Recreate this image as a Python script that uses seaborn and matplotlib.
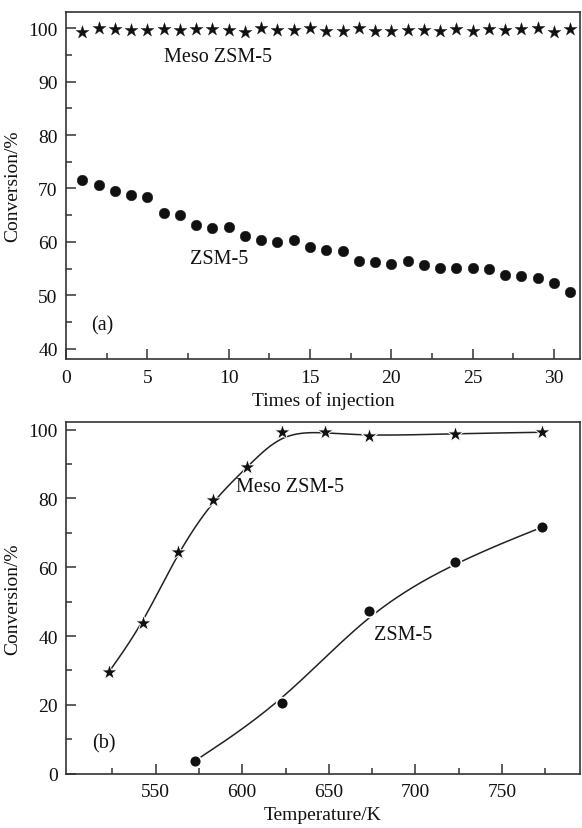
import numpy as np
import pandas as pd
import matplotlib
matplotlib.use("Agg")
import matplotlib.pyplot as plt
import seaborn as sns
from matplotlib.ticker import MultipleLocator, FixedLocator

# (a) conversion versus number of injections
injections = list(range(1, 32))
meso_inj = [99.2, 100.0, 99.8, 99.7, 99.7, 99.9, 99.6, 99.9, 99.9, 99.6,
            99.2, 100.0, 99.7, 99.7, 100.0, 99.5, 99.5, 100.0, 99.5, 99.5,
            99.7, 99.6, 99.5, 99.9, 99.4, 99.9, 99.7, 99.9, 100.0, 99.2, 99.9]
zsm_inj = [71.6, 70.7, 69.6, 68.8, 68.4, 65.4, 65.0, 63.2, 62.6, 62.8,
           61.2, 60.3, 60.0, 60.4, 59.1, 58.5, 58.4, 56.4, 56.2, 55.9,
           56.5, 55.7, 55.2, 55.1, 55.2, 54.9, 53.9, 53.7, 53.3, 52.4, 50.7]

# (b) conversion versus reaction temperature
meso_temp = [523, 543, 563, 583, 603, 623, 648, 673, 723, 773]
meso_conv = [29.5, 43.8, 64.5, 79.4, 89.1, 99.2, 99.2, 98.1, 98.8, 99.2]
zsm_temp = [573, 623, 673, 723, 773]
zsm_conv = [3.8, 20.5, 47.2, 61.5, 71.6]

sns.set_theme(style="ticks")
plt.rcParams["font.family"] = ["Liberation Serif", "DejaVu Serif"]

FS = 14
INK = "#111111"
SPINE = "#333333"


def bspline(xs, ys, n=60):
    """Clamped uniform cubic B-spline using the points as control points."""
    P = np.column_stack([xs, ys]).astype(float)
    P = np.vstack([P[0], P[0], P, P[-1], P[-1]])
    t = np.linspace(0, 1, n)[:, None]
    b0 = (1 - t) ** 3 / 6
    b1 = (3 * t ** 3 - 6 * t ** 2 + 4) / 6
    b2 = (-3 * t ** 3 + 3 * t ** 2 + 3 * t + 1) / 6
    b3 = t ** 3 / 6
    segs = [b0 * P[i] + b1 * P[i + 1] + b2 * P[i + 2] + b3 * P[i + 3]
            for i in range(len(P) - 3)]
    curve = np.vstack(segs)
    return pd.DataFrame({"x": curve[:, 0], "y": curve[:, 1]})


def style_axes(ax):
    for s in ax.spines.values():
        s.set_visible(True)
        s.set_color(SPINE)
        s.set_linewidth(1.2)
    ax.tick_params(axis="both", which="both", direction="in", top=False, right=False,
                   colors=SPINE, labelcolor=INK, labelsize=FS, width=1.1)
    ax.tick_params(which="major", length=7, pad=6)
    ax.tick_params(which="minor", length=4)
    ax.tick_params(axis="x", which="major", pad=7)


fig = plt.figure(figsize=(5.82, 8.29), dpi=100)
ax1 = fig.add_axes([0.1134, 0.5657, 0.8832, 0.4192])
ax2 = fig.add_axes([0.1134, 0.0655, 0.8832, 0.4239])

# ---- panel (a)
df_a = pd.DataFrame({"n": injections, "meso": meso_inj, "zsm": zsm_inj})
sns.scatterplot(data=df_a, x="n", y="meso", marker="*", s=100, color=INK,
                edgecolor=INK, linewidth=0.2, ax=ax1, zorder=3)
sns.scatterplot(data=df_a, x="n", y="zsm", marker="o", s=58, color=INK,
                edgecolor=INK, linewidth=0.3, ax=ax1, zorder=3)
ax1.set_xlim(0, 31.6)
ax1.set_ylim(38.1, 103.1)
ax1.xaxis.set_major_locator(MultipleLocator(5))
ax1.xaxis.set_minor_locator(MultipleLocator(2.5))
ax1.yaxis.set_major_locator(FixedLocator([40, 50, 60, 70, 80, 90, 100]))
ax1.yaxis.set_minor_locator(FixedLocator([45, 55, 65, 75, 85, 95]))
style_axes(ax1)
ax1.set_xlabel("Times of injection", fontsize=FS, color=INK, labelpad=4)
ax1.set_ylabel("Conversion/%", fontsize=FS, color=INK)
ax1.yaxis.set_label_coords(-0.088, 0.5)
ax1.text(6.05, 94.6, "Meso ZSM-5", fontsize=14.5, color=INK, ha="left", va="center")
ax1.text(7.6, 56.9, "ZSM-5", fontsize=14.5, color=INK, ha="left", va="center")
ax1.text(1.55, 44.4, "(a)", fontsize=14.5, color=INK, ha="left", va="center")

# ---- panel (b)
meso_curve = bspline(meso_temp, meso_conv)
zsm_curve = bspline(zsm_temp, zsm_conv)
sns.lineplot(data=meso_curve, x="x", y="y", sort=False, estimator=None,
             color="#222222", linewidth=1.1, ax=ax2, zorder=2)
sns.lineplot(data=zsm_curve, x="x", y="y", sort=False, estimator=None,
             color="#222222", linewidth=1.1, ax=ax2, zorder=2)
df_bm = pd.DataFrame({"T": meso_temp, "c": meso_conv})
df_bz = pd.DataFrame({"T": zsm_temp, "c": zsm_conv})
sns.scatterplot(data=df_bm, x="T", y="c", marker="*", s=150, color=INK,
                edgecolor="white", linewidth=0.7, ax=ax2, zorder=3)
sns.scatterplot(data=df_bz, x="T", y="c", marker="o", s=72, color=INK,
                edgecolor="white", linewidth=1.2, ax=ax2, zorder=3)
ax2.set_xlim(498.3, 795)
ax2.set_ylim(0, 102.1)
ax2.xaxis.set_major_locator(FixedLocator([550, 600, 650, 700, 750]))
ax2.xaxis.set_minor_locator(FixedLocator([525, 575, 625, 675, 725, 775]))
ax2.yaxis.set_major_locator(FixedLocator([0, 20, 40, 60, 80, 100]))
ax2.yaxis.set_minor_locator(FixedLocator([10, 30, 50, 70, 90]))
style_axes(ax2)
ax2.set_xlabel("Temperature/K", fontsize=FS, color=INK, labelpad=4)
ax2.set_ylabel("Conversion/%", fontsize=FS, color=INK)
ax2.yaxis.set_label_coords(-0.088, 0.5)
ax2.text(596.5, 83.3, "Meso ZSM-5", fontsize=14.5, color=INK, ha="left", va="center")
ax2.text(675.8, 40.3, "ZSM-5", fontsize=14.5, color=INK, ha="left", va="center")
ax2.text(513.2, 9.1, "(b)", fontsize=14.5, color=INK, ha="left", va="center")

fig.savefig("out.png", dpi=100, facecolor="white")
